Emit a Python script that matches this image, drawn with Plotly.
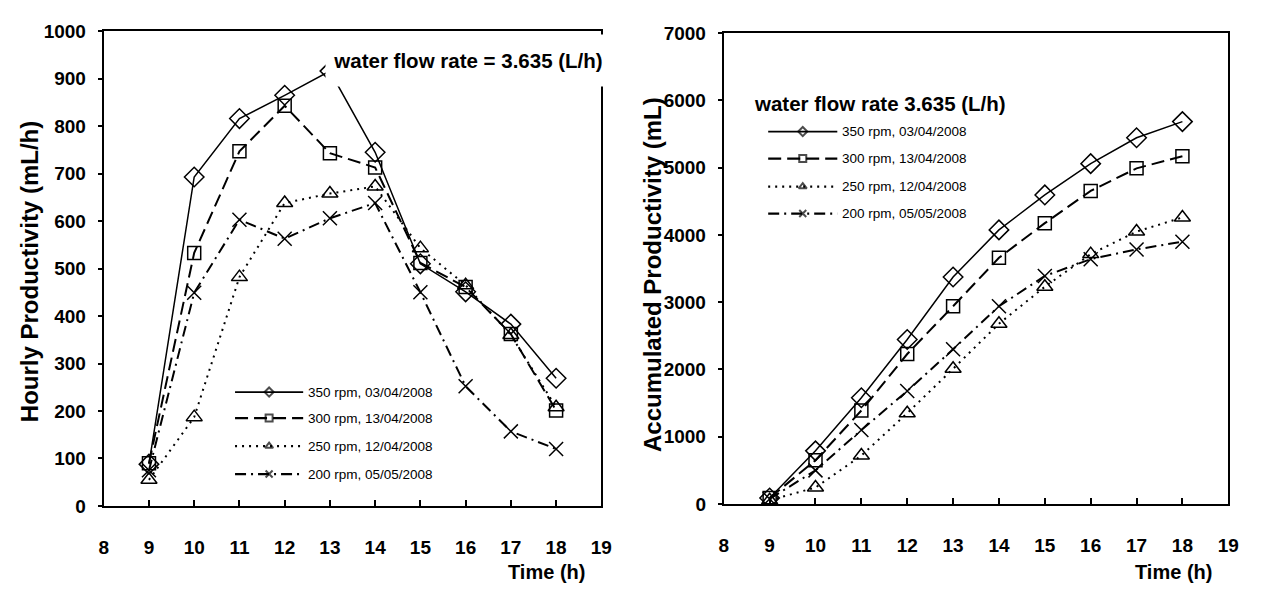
import plotly.graph_objects as go

# Time of day (h)
hours = [9, 10, 11, 12, 13, 14, 15, 16, 17, 18]

# Hourly productivity (mL/h)
hourly_350 = [88, 693, 816, 865, 916, 745, 510, 451, 383, 269]
hourly_300 = [90, 533, 747, 843, 743, 713, 512, 461, 362, 201]
hourly_250 = [55, 187, 482, 638, 658, 673, 543, 465, 360, 208]
hourly_200 = [75, 449, 603, 563, 606, 638, 450, 252, 157, 120]

# Accumulated productivity (mL)
accum_350 = [90, 790, 1580, 2445, 3375, 4075, 4595, 5060, 5445, 5685]
accum_300 = [90, 650, 1390, 2230, 2940, 3660, 4175, 4655, 4990, 5170]
accum_250 = [55, 245, 720, 1350, 2010, 2680, 3230, 3715, 4050, 4260]
accum_200 = [75, 500, 1100, 1680, 2300, 2940, 3390, 3640, 3785, 3900]

series_names = ["350 rpm, 03/04/2008", "300 rpm, 13/04/2008",
                "250 rpm, 12/04/2008", "200 rpm, 05/05/2008"]

FONT = "Liberation Sans"

styles = [
    dict(dash="solid", width=1.5, symbol="diamond-open", size=15),
    dict(dash="13px,6px", width=2.0, symbol="square-open", size=13),
    dict(dash="2px,5px", width=2.0, symbol="triangle-up-open", size=14),
    dict(dash="11px,5px,2px,5px", width=2.0, symbol="x-thin-open", size=14),
]

W, H = 1261, 597

# legend blocks: row centres and sample-line extent, in page pixels
legend_blocks = [
    dict(rows=[396, 423, 452, 481], x0=233, x1=302),
    dict(rows=[126, 154, 183, 211], x0=773, x1=843),
]


def px_x(v):
    return v / W


def px_y(v):
    return 1 - v / H


fig = go.Figure()

panels = [
    ("x", "y", [hourly_350, hourly_300, hourly_250, hourly_200]),
    ("x2", "y2", [accum_350, accum_300, accum_250, accum_200]),
]

for xa, ya, data in panels:
    for name, vals, st in zip(series_names, data, styles):
        fig.add_trace(go.Scatter(
            x=hours, y=vals, xaxis=xa, yaxis=ya, mode="lines+markers",
            name=name, showlegend=False,
            line=dict(color="black", width=st["width"], dash=st["dash"]),
            marker=dict(symbol=st["symbol"], size=st["size"], color="black",
                        line=dict(color="black", width=1.5)),
        ))

# legend samples drawn on a full-page pixel axis
for blk in legend_blocks:
    x0, x1 = blk["x0"], blk["x1"]
    for name, st, row in zip(series_names, styles, blk["rows"]):
        fig.add_trace(go.Scatter(
            x=[x0, (x0 + x1) / 2, x1], y=[row, row, row],
            xaxis="x3", yaxis="y3", mode="lines+markers", showlegend=False,
            hoverinfo="skip",
            line=dict(color="black", width=st["width"] + 0.3, dash=st["dash"]),
            marker=dict(symbol=st["symbol"], size=[0, 7, 0], color="black",
                        line=dict(color="black", width=2)),
        ))
        fig.add_annotation(text=name, xref="paper", yref="paper",
                           x=px_x(x1 + 3), y=px_y(row), xanchor="left",
                           yanchor="middle", showarrow=False,
                           font=dict(family=FONT, size=13.5, color="black"))

tick_font = dict(family=FONT, size=19, color="black", weight="bold")

xcommon = dict(range=[8, 19], dtick=1, tick0=8, showline=True, linecolor="black",
               linewidth=2, mirror=True, ticks="inside", ticklen=6, tickwidth=1.5,
               tickcolor="black", showgrid=False, zeroline=False,
               tickfont=tick_font, ticklabelstandoff=23)
ycommon = dict(showline=True, linecolor="black", linewidth=2, mirror=True,
               ticks="outside", ticklen=4, tickwidth=1.5, tickcolor="black",
               showgrid=False, zeroline=False, tickfont=tick_font,
               ticklabelstandoff=8)

fig.update_layout(
    width=W, height=H,
    margin=dict(l=0, r=0, t=0, b=0),
    paper_bgcolor="white", plot_bgcolor="rgba(0,0,0,0)",
    showlegend=False,
    xaxis=dict(domain=[px_x(100), px_x(604)], anchor="y", **xcommon),
    yaxis=dict(domain=[px_y(514), px_y(22)], anchor="x", range=[0, 1000],
               dtick=100, **ycommon),
    xaxis2=dict(domain=[px_x(728), px_x(1239)], anchor="y2", **xcommon),
    yaxis2=dict(domain=[px_y(512), px_y(24)], anchor="x2", range=[0, 7000],
                dtick=1000, **ycommon),
    xaxis3=dict(domain=[0, 1], anchor="y3", range=[0, W], visible=False,
                fixedrange=True),
    yaxis3=dict(domain=[0, 1], anchor="x3", range=[H, 0], visible=False,
                fixedrange=True),
)

title_font = dict(family=FONT, size=24, color="black", weight="bold")
fig.add_annotation(text="Hourly Productivity (mL/h)", xref="paper", yref="paper",
                   x=px_x(25), y=px_y(271), xanchor="center", yanchor="middle",
                   textangle=-90, showarrow=False, font=title_font)
fig.add_annotation(text="Accumulated Productivity (mL)", xref="paper", yref="paper",
                   x=px_x(656), y=px_y(274), xanchor="center", yanchor="middle",
                   textangle=-90, showarrow=False, font=title_font)
time_font = dict(family=FONT, size=20, color="black", weight="bold")
fig.add_annotation(text="Time (h)", xref="paper", yref="paper",
                   x=px_x(548), y=px_y(583), xanchor="center", yanchor="middle",
                   showarrow=False, font=time_font)
fig.add_annotation(text="Time (h)", xref="paper", yref="paper",
                   x=px_x(1184), y=px_y(583), xanchor="center", yanchor="middle",
                   showarrow=False, font=time_font)

flow_font = dict(family=FONT, size=20.5, color="black", weight="bold")
fig.add_annotation(text="water flow rate = 3.635 (L/h)", xref="paper", yref="paper",
                   x=px_x(469), y=px_y(52.5), xanchor="center", yanchor="middle",
                   showarrow=False, font=flow_font,
                   bgcolor="white", width=284, height=51, borderpad=0)
fig.add_annotation(text="water flow rate 3.635 (L/h)", xref="paper", yref="paper",
                   x=px_x(886), y=px_y(97), xanchor="center", yanchor="middle",
                   showarrow=False, font=flow_font)

fig.write_html("out.html")
